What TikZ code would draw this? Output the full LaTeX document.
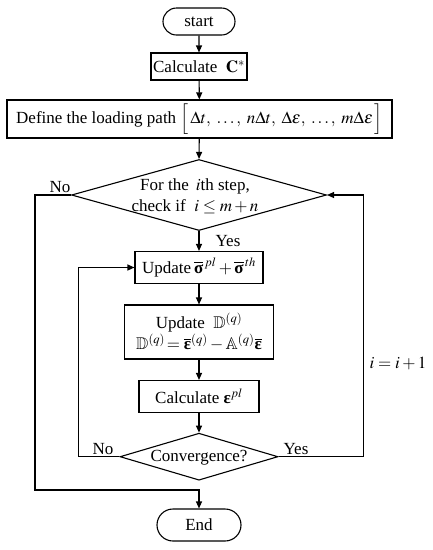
\documentclass[tikz,border=0pt]{standalone}
\usepackage{amsmath,amssymb}
\usepackage{mathptmx}
\usepackage{fontspec}
\setmainfont{Liberation Serif}
\usetikzlibrary{shapes.geometric,shapes.misc,arrows.meta}
\newcommand{\bsig}{\text{\bfseries σ}}
\newcommand{\beps}{\text{\bfseries ε}}
\begin{document}
\begin{tikzpicture}[x=1pt,y=-1pt,
  font=\fontsize{17}{21}\selectfont, line width=1.1pt,
  box/.style={draw, rectangle, inner sep=0pt, align=center},
  term/.style={draw, rounded rectangle, inner sep=0pt},
  dia/.style={draw, diamond, inner sep=0pt},
  txt/.style={inner sep=0pt, align=center},
  arr/.style={-{Triangle[length=7pt,width=6pt]}}]
\useasboundingbox (0,0) rectangle (432,550);

\node[term, minimum width=72pt, minimum height=27pt] (start) at (199,21.5) {start};
\node[box, minimum width=96pt, minimum height=27pt] (calc) at (199,66.5) {Calculate \ $\mathbf{C}^{*}$};
\node[box, minimum width=385pt, minimum height=38pt] (def) at (199.5,119)
  {Define the loading path $\Big[\,\Delta t,\;\ldots,\;n\Delta t,\;\Delta\varepsilon,\;\ldots,\;m\Delta\varepsilon\,\Big]$};
\node[dia, minimum width=255pt, minimum height=71pt] (d1) at (199,195) {};
\node[txt] (d1t) at (195,196) {For the \,$i$th step,\\ check if \ $i\le m+n$};
\node[box, minimum width=128pt, minimum height=32pt] (upd) at (199,267.5)
  {Update\,$\overline{\bsig}^{\,pl}+\overline{\bsig}^{\,th}$};
\node[box, minimum width=149pt, minimum height=54pt] (updD) at (199,332)
  {Update \ $\mathbb{D}^{(q)}$\\ $\mathbb{D}^{(q)}\!=\overline{\beps}^{(q)}-\mathbb{A}^{(q)}\overline{\beps}$};
\node[box, minimum width=120pt, minimum height=32pt] (ceps) at (199,396.5)
  {Calculate $\beps^{pl}$};
\node[dia, minimum width=158pt, minimum height=47pt] (d2) at (199,456.7) {};
\node[txt] (d2t) at (199,458) {Convergence?};
\node[term, minimum width=84pt, minimum height=32pt] (end) at (199,525) {End};

\node[txt] (no1) at (60,187) {No};
\node[txt] (yes1) at (228,241) {Yes};
\node[txt] (no2) at (103,449) {No};
\node[txt] (yes2) at (296,449) {Yes};
\node[txt] (inc) at (398,363) {$i=i+1$};

\coordinate (c1) at (35,490);

\draw[arr] (start) -- (calc);
\draw[arr] (calc) -- (def);
\draw[arr] (def) -- (d1.north);
\draw[arr] (d1.south) -- (upd);
\draw[arr] (upd) -- (updD);
\draw[arr] (updD) -- (ceps);
\draw[arr] (ceps) -- (d2.north);
\draw[arr] (d1.west) -| (c1) -| (end.north);
\draw[arr] (d2.west) -- ++(-41,0) |- (upd.west);
\draw[arr] (d2.east) -- ++(85,0) |- (d1.east);
\end{tikzpicture}
\end{document}
